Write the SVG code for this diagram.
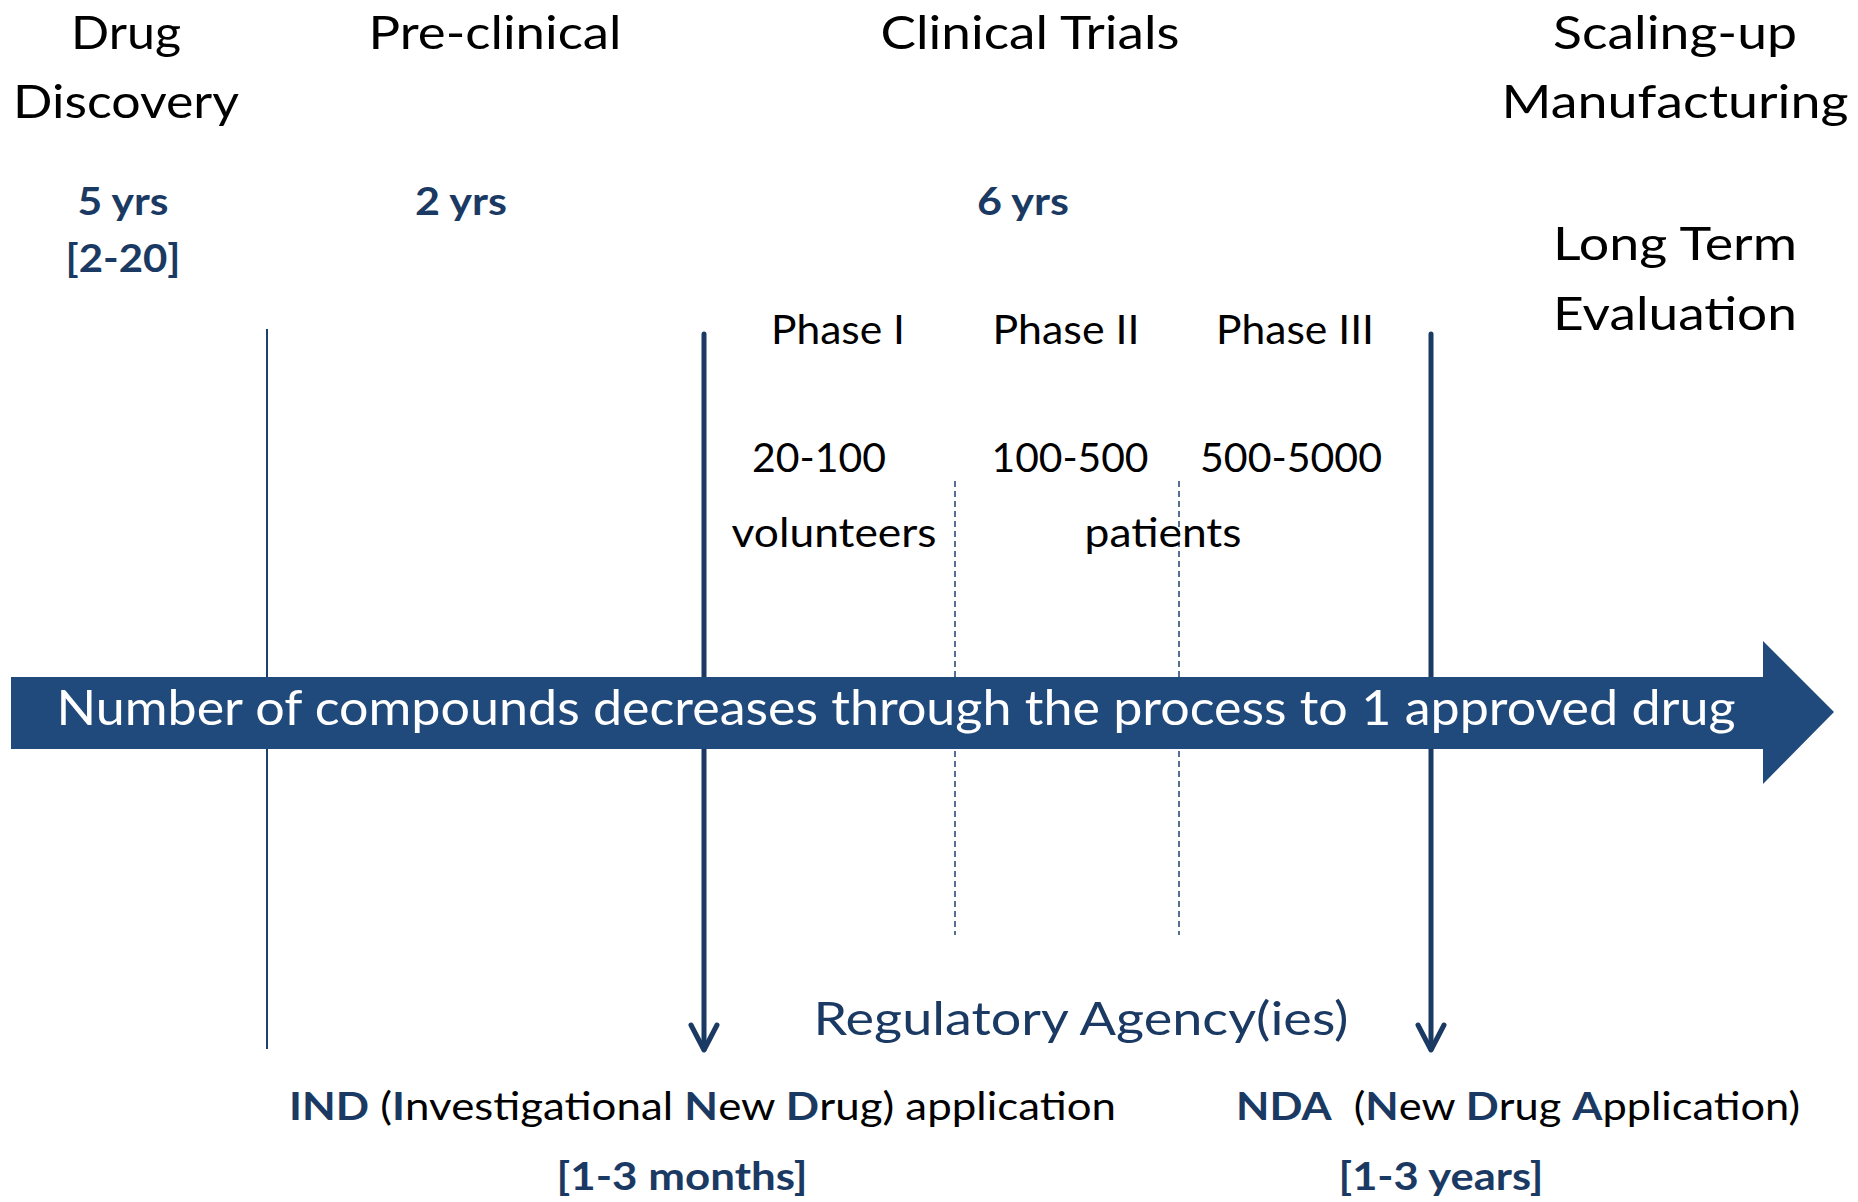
<svg xmlns="http://www.w3.org/2000/svg" width="1858" height="1202" viewBox="0 0 1858 1202">
<style>
.h{font-family:Lato,"Liberation Sans",sans-serif;font-size:47px;fill:#000;text-anchor:middle}
.p{font-family:Lato,"Liberation Sans",sans-serif;font-size:40px;fill:#000;text-anchor:middle}
.y{font-family:Lato,"Liberation Sans",sans-serif;font-size:39px;font-weight:bold;fill:#1B3A63;text-anchor:middle}
.b{font-family:Lato,"Liberation Sans",sans-serif;font-size:39px;fill:#000}
.nv{fill:#1B3A63;font-weight:bold}
.reg{font-family:Lato,"Liberation Sans",sans-serif;font-size:46px;fill:#1B3A63;text-anchor:middle}
.at{font-family:Lato,"Liberation Sans",sans-serif;font-size:49px;fill:#fff;text-anchor:middle}
.thin{stroke:#1F3F6E;stroke-width:2;fill:none}
.thick{stroke:#1B3A63;stroke-width:5;fill:none;stroke-linecap:round;stroke-linejoin:round}
.dash{stroke:#1F3F6E;stroke-width:1.5;fill:none;stroke-dasharray:6 4}
</style>
<rect width="1858" height="1202" fill="#fff"/>
<g id="connectors">
<line class="thin" x1="267" y1="329" x2="267" y2="1049"/>
<line class="dash" x1="955" y1="481" x2="955" y2="935"/>
<line class="dash" x1="1179" y1="481" x2="1179" y2="935"/>
<g id="ind-arrow">
<line class="thick" x1="704" y1="334" x2="704" y2="1049"/>
<polyline class="thick" points="691,1025 704,1050 717,1025"/>
</g>
<g id="nda-arrow">
<line class="thick" x1="1431" y1="334" x2="1431" y2="1049"/>
<polyline class="thick" points="1418,1025 1431,1050 1444,1025"/>
</g>
</g>
<g id="big-arrow">
<polygon points="11,677 1763,677 1763,641 1834,712 1763,784 1763,749 11,749" fill="#214A7C"/>
<text class="at" x="896" y="725" textLength="1679" lengthAdjust="spacingAndGlyphs">Number of compounds decreases through the process to 1 approved drug</text>
</g>
<g id="drug-discovery">
<text class="h" x="126" y="49" textLength="110" lengthAdjust="spacingAndGlyphs">Drug</text>
<text class="h" x="126" y="118" textLength="226" lengthAdjust="spacingAndGlyphs">Discovery</text>
<text class="y" x="123" y="215" textLength="91" lengthAdjust="spacingAndGlyphs">5 yrs</text>
<text class="y" x="123" y="272" textLength="115" lengthAdjust="spacingAndGlyphs">[2-20]</text>
</g>
<g id="pre-clinical">
<text class="h" x="495" y="49" textLength="253" lengthAdjust="spacingAndGlyphs">Pre-clinical</text>
<text class="y" x="461" y="215" textLength="92" lengthAdjust="spacingAndGlyphs">2 yrs</text>
</g>
<g id="clinical-trials">
<text class="h" x="1030" y="49" textLength="299" lengthAdjust="spacingAndGlyphs">Clinical Trials</text>
<text class="y" x="1023" y="215" textLength="92" lengthAdjust="spacingAndGlyphs">6 yrs</text>
</g>
<g id="phase1">
<text class="p" x="838" y="344" textLength="134" lengthAdjust="spacingAndGlyphs">Phase I</text>
<text class="p" x="819" y="472" textLength="134" lengthAdjust="spacingAndGlyphs">20-100</text>
<text class="p" x="834" y="547" textLength="205" lengthAdjust="spacingAndGlyphs">volunteers</text>
</g>
<g id="phase2">
<text class="p" x="1066" y="344" textLength="147" lengthAdjust="spacingAndGlyphs">Phase II</text>
<text class="p" x="1070" y="472" textLength="157" lengthAdjust="spacingAndGlyphs">100-500</text>
<text class="p" x="1163" y="547" textLength="157" lengthAdjust="spacingAndGlyphs">patients</text>
</g>
<g id="phase3">
<text class="p" x="1295" y="344" textLength="158" lengthAdjust="spacingAndGlyphs">Phase III</text>
<text class="p" x="1291" y="472" textLength="182" lengthAdjust="spacingAndGlyphs">500-5000</text>
</g>
<g id="scaling-up">
<text class="h" x="1675" y="49" textLength="244" lengthAdjust="spacingAndGlyphs">Scaling-up</text>
<text class="h" x="1675" y="118" textLength="347" lengthAdjust="spacingAndGlyphs">Manufacturing</text>
<text class="h" x="1675" y="260" textLength="244" lengthAdjust="spacingAndGlyphs">Long Term</text>
<text class="h" x="1675" y="330" textLength="244" lengthAdjust="spacingAndGlyphs">Evaluation</text>
</g>
<g id="regulatory">
<text class="reg" x="1081" y="1035" textLength="535" lengthAdjust="spacingAndGlyphs">Regulatory Agency(ies)</text>
</g>
<g id="ind">
<text class="b" x="289" y="1120" textLength="827" lengthAdjust="spacingAndGlyphs"><tspan class="nv">IND</tspan> (<tspan class="nv">I</tspan>nvestigational <tspan class="nv">N</tspan>ew <tspan class="nv">D</tspan>rug) application</text>
<text class="y" x="682" y="1190" textLength="251" lengthAdjust="spacingAndGlyphs">[1-3 months]</text>
</g>
<g id="nda">
<text class="b" x="1236" y="1120" textLength="564" lengthAdjust="spacingAndGlyphs"><tspan class="nv">NDA</tspan>&#160; (<tspan class="nv">N</tspan>ew <tspan class="nv">D</tspan>rug <tspan class="nv">A</tspan>pplication)</text>
<text class="y" x="1441" y="1190" textLength="205" lengthAdjust="spacingAndGlyphs">[1-3 years]</text>
</g>
</svg>
